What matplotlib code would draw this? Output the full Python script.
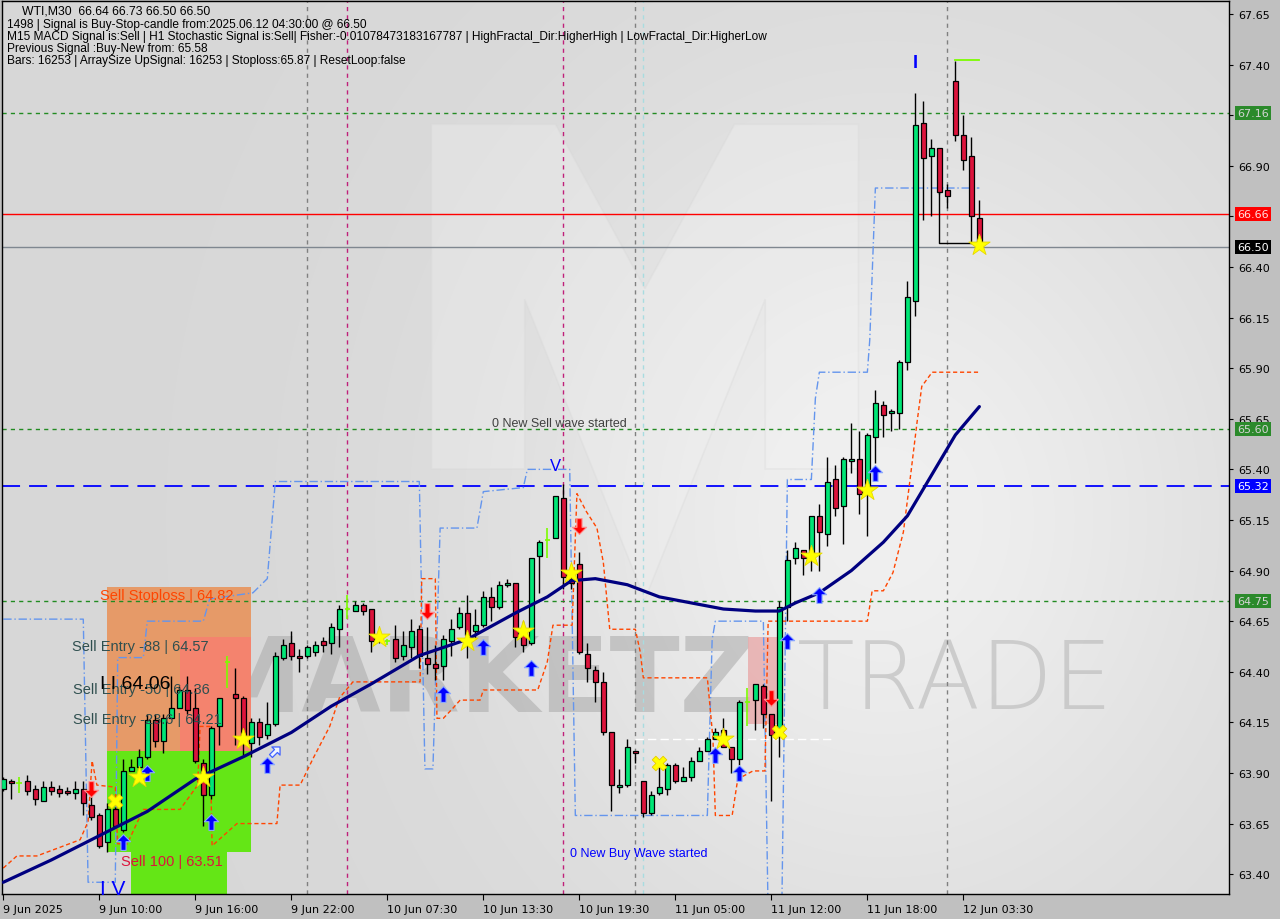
import numpy as np
import matplotlib
matplotlib.use('Agg')
import matplotlib.pyplot as plt
from matplotlib import transforms
from matplotlib.patches import Rectangle, Polygon
from matplotlib.path import Path
from matplotlib.markers import MarkerStyle

# WTI M30 candles (open, high, low, close)
opens = [63.82, 63.86, 63.85, 63.86, 63.82, 63.76, 63.83, 63.82, 63.81, 63.80,
         63.82, 63.74, 63.69, 63.56, 63.72, 63.62, 63.91, 63.93, 63.98, 64.16,
         64.06, 64.17, 64.22, 64.31, 64.22, 63.95, 63.79, 64.13, 64.45, 64.29,
         64.27, 64.05, 64.15, 64.09, 64.14, 64.47, 64.54, 64.48, 64.48, 64.50,
         64.55, 64.54, 64.61, 64.71, 64.70, 64.73, 64.71, 64.56, 64.55, 64.56,
         64.48, 64.52, 64.61, 64.47, 64.44, 64.43, 64.55, 64.62, 64.69, 64.60,
         64.63, 64.77, 64.72, 64.83, 64.84, 64.58, 64.54, 64.97, 65.05, 65.06,
         65.26, 64.86, 64.93, 64.49, 64.41, 64.35, 64.10, 63.83, 63.84, 64.01,
         63.86, 63.70, 63.80, 63.82, 63.94, 63.86, 63.88, 63.96, 64.01, 64.07,
         64.11, 64.03, 63.97, 64.25, 64.26, 64.33, 64.19, 64.10, 64.72, 64.96,
         65.00, 64.98, 65.17, 65.08, 65.35, 65.22, 65.44, 65.45, 65.28, 65.56,
         65.72, 65.68, 65.68, 65.93, 66.23, 67.11, 66.95, 66.99, 66.78, 67.32,
         67.05, 66.95, 66.64]
highs = [63.88, 63.87, 63.88, 63.89, 63.84, 63.86, 63.86, 63.84, 63.83, 63.86,
         63.86, 63.79, 63.70, 63.75, 63.73, 63.97, 63.97, 64.02, 64.19, 64.19,
         64.19, 64.38, 64.33, 64.38, 64.32, 63.97, 64.13, 64.27, 64.48, 64.42,
         64.28, 64.17, 64.17, 64.25, 64.50, 64.56, 64.60, 64.51, 64.53, 64.55,
         64.57, 64.64, 64.73, 64.78, 64.75, 64.74, 64.71, 64.59, 64.56, 64.63,
         64.60, 64.66, 64.63, 64.62, 64.53, 64.58, 64.66, 64.72, 64.78, 64.71,
         64.80, 64.82, 64.85, 64.86, 64.84, 64.65, 64.96, 65.05, 65.11, 65.27,
         65.33, 64.88, 64.99, 64.54, 64.43, 64.40, 64.10, 63.92, 64.07, 64.01,
         63.86, 63.81, 63.93, 63.95, 63.95, 63.93, 63.98, 64.03, 64.08, 64.12,
         64.17, 64.03, 64.26, 64.32, 64.34, 64.34, 64.19, 64.75, 65.00, 65.04,
         65.00, 65.17, 65.23, 65.46, 65.42, 65.46, 65.63, 65.59, 65.58, 65.79,
         65.74, 65.70, 65.94, 66.33, 67.26, 67.22, 67.03, 66.99, 66.81, 67.42,
         67.15, 67.04, 66.73]
lows = [63.81, 63.77, 63.80, 63.79, 63.74, 63.76, 63.79, 63.78, 63.79, 63.77,
        63.69, 63.67, 63.53, 63.51, 63.63, 63.61, 63.91, 63.92, 63.97, 64.03,
        64.00, 64.17, 64.22, 64.19, 63.95, 63.64, 63.77, 64.04, 64.32, 64.04,
        63.99, 63.98, 64.04, 64.07, 64.13, 64.46, 64.46, 64.40, 64.47, 64.48,
        64.50, 64.49, 64.52, 64.66, 64.70, 64.68, 64.50, 64.54, 64.53, 64.45,
        64.46, 64.47, 64.42, 64.39, 64.36, 64.36, 64.48, 64.61, 64.47, 64.56,
        64.62, 64.65, 64.71, 64.82, 64.52, 64.50, 64.53, 64.79, 64.96, 65.06,
        64.81, 64.81, 64.49, 64.35, 64.25, 64.09, 63.71, 63.80, 63.83, 63.95,
        63.68, 63.69, 63.79, 63.79, 63.85, 63.86, 63.86, 63.96, 64.01, 64.07,
        64.03, 63.90, 63.94, 64.13, 64.11, 64.12, 63.76, 63.98, 64.65, 64.93,
        64.88, 64.90, 64.90, 65.02, 65.17, 65.03, 65.38, 65.18, 65.07, 65.43,
        65.56, 65.59, 65.60, 65.89, 66.16, 66.63, 66.65, 66.76, 66.69, 67.02,
        66.88, 66.52, 66.50]
closes = [63.87, 63.85, 63.85, 63.81, 63.77, 63.83, 63.81, 63.80, 63.80, 63.82,
          63.75, 63.68, 63.54, 63.72, 63.64, 63.91, 63.93, 63.98, 64.16, 64.06,
          64.17, 64.22, 64.31, 64.21, 63.96, 63.79, 64.12, 64.27, 64.45, 64.27,
          64.07, 64.15, 64.08, 64.14, 64.48, 64.53, 64.48, 64.47, 64.52, 64.53,
          64.53, 64.62, 64.71, 64.71, 64.73, 64.70, 64.55, 64.58, 64.55, 64.47,
          64.53, 64.60, 64.48, 64.44, 64.42, 64.56, 64.61, 64.69, 64.58, 64.63,
          64.77, 64.72, 64.83, 64.84, 64.57, 64.53, 64.96, 65.04, 65.05, 65.27,
          64.87, 64.84, 64.50, 64.42, 64.35, 64.10, 63.84, 63.84, 64.03, 64.00,
          63.70, 63.79, 63.83, 63.94, 63.86, 63.88, 63.96, 64.01, 64.07, 64.10,
          64.03, 63.97, 64.25, 64.25, 64.34, 64.19, 64.09, 64.72, 64.95, 65.01,
          64.96, 65.17, 65.09, 65.34, 65.21, 65.45, 65.45, 65.28, 65.57, 65.73,
          65.67, 65.69, 65.93, 66.25, 67.10, 66.94, 66.99, 66.77, 66.75, 67.05,
          66.93, 66.65, 66.50]

# moving average (navy line)
ma_idx = [0, 6, 12, 18, 24, 30, 36, 41, 46, 52, 58, 64, 68, 71, 74, 78, 82, 86,
          90, 94, 97, 99, 102, 106, 110, 113, 116, 119, 122]
ma_val = [63.36, 63.47, 63.59, 63.71, 63.87, 63.98, 64.10, 64.23, 64.34, 64.48,
          64.56, 64.69, 64.77, 64.85, 64.86, 64.83, 64.77, 64.74, 64.71, 64.70,
          64.70, 64.74, 64.79, 64.90, 65.04, 65.17, 65.37, 65.57, 65.71]

# blue dash-dot envelope
band_hi_idx = [0, 10, 10.6, 14, 14.3, 17.5, 18, 25, 25.8, 31.2, 33, 34, 52, 52.7,
               53.7, 54.6, 59.2, 60, 65, 65.5, 70.8, 71.5, 88, 88.6, 89, 95, 95.6,
               97.3, 98, 101, 101.5, 102, 108, 108.3, 109, 122]
band_hi_val = [64.66, 64.66, 63.36, 63.36, 64.47, 64.47, 64.65, 64.65, 64.76, 64.79,
               64.86, 65.34, 65.34, 63.92, 63.92, 65.11, 65.11, 65.29, 65.31, 65.40,
               65.40, 63.69, 63.69, 64.56, 64.65, 64.65, 63.20, 63.20, 65.35, 65.35,
               65.75, 65.88, 65.88, 66.04, 66.79, 66.79]

# orange-red dashed stop line
band_lo_idx = [0, 1.7, 4.2, 9.6, 10.6, 11.1, 11.7, 14, 14.3, 15.5, 17.5, 22.1, 24.3,
               24.6, 25.8, 26.1, 29.2, 34.2, 34.6, 37.1, 38.7, 40.8, 42, 43.7, 52.1,
               52.3, 54, 54.2, 55, 56.2, 57.1, 59.6, 60, 66.8, 68, 68.7, 71.1, 71.7,
               72.9, 74.2, 75, 75.8, 79, 79.6, 80, 88, 88.7, 89, 91.1, 91.8, 93.7,
               95.2, 95.6, 108, 108.6, 110, 111.2, 112.5, 113.4, 114.2, 114.8, 116.1, 122]
band_lo_val = [63.43, 63.49, 63.49, 63.57, 63.66, 63.96, 63.84, 63.83, 63.55, 63.55,
               63.72, 63.72, 63.84, 64.13, 64.13, 63.54, 63.65, 63.65, 63.84, 63.84,
               63.97, 64.13, 64.27, 64.35, 64.35, 64.86, 64.86, 64.17, 64.17, 64.22,
               64.26, 64.26, 64.31, 64.31, 64.45, 64.63, 64.63, 65.28, 65.19, 65.11,
               64.94, 64.61, 64.61, 64.50, 64.37, 64.37, 64.07, 63.69, 63.69, 63.87,
               63.91, 63.91, 64.65, 64.65, 64.80, 64.80, 64.89, 65.09, 65.37, 65.63,
               65.81, 65.88, 65.88]

up_idx = [15, 18, 26, 33, 55, 60, 66, 89, 92, 98, 102, 109]
up_val = [63.56, 63.90, 63.66, 63.94, 64.29, 64.52, 64.42, 63.99, 63.90, 64.55, 64.78, 65.38]
down_idx = [11, 53, 72, 96]
down_val = [63.82, 64.70, 65.12, 64.27]
star_idx = [17, 25, 30, 47, 58, 65, 71, 90, 101, 108, 122]
star_val = [63.88, 63.88, 64.07, 64.57, 64.55, 64.60, 64.89, 64.07, 64.97, 65.30, 66.51]
cross_idx = [14, 82, 97]
cross_val = [63.76, 63.95, 64.10]

time_labels = ['9 Jun 2025', '9 Jun 10:00', '9 Jun 16:00', '9 Jun 22:00', '10 Jun 07:30',
               '10 Jun 13:30', '10 Jun 19:30', '11 Jun 05:00', '11 Jun 12:00',
               '11 Jun 18:00', '12 Jun 03:30']
price_ticks = [63.40, 63.65, 63.90, 64.15, 64.40, 64.65, 64.90, 65.15, 65.40, 65.65,
               65.90, 66.15, 66.40, 66.65, 66.90, 67.15, 67.40, 67.65]
hidden_ticks = [66.65, 67.15]   # covered by the price tags

header = ['1498 | Signal is Buy-Stop-candle from:2025.06.12 04:30:00 @ 66.50',
          'M15 MACD Signal is:Sell | H1 Stochastic Signal is:Sell| Fisher:-0.01078473183167787 | HighFractal_Dir:HigherHigh | LowFractal_Dir:HigherLow',
          'Previous Signal :Buy-New from: 65.58',
          'Bars: 16253 | ArraySize UpSignal: 16253 | Stoploss:65.87 | ResetLoop:false']

fig = plt.figure(figsize=(12.8, 9.2), dpi=100, facecolor='#c0c0c0')
ax = fig.add_axes([2 / 1280, 1 - 895 / 920, 1227 / 1280, 893 / 920])
xmin, xmax = -0.16, 153.2
ymin, ymax = 63.302, 67.714
ax.set_xlim(xmin, xmax)
ax.set_ylim(ymin, ymax)

# background with soft light patch
gy, gx = np.mgrid[0:1:200j, 0:1:300j]
val = 0.845 + 0.095 * np.exp(-((gx - 0.72) ** 2 / 0.09 + (gy - 0.42) ** 2 / 0.22))
ax.imshow(np.dstack([val, val, val]), extent=(xmin, xmax, ymin, ymax), origin='lower',
          aspect='auto', zorder=0, interpolation='bilinear')

# watermark
m_pts = [(0.350, 0.862), (0.451, 0.862), (0.524, 0.678), (0.597, 0.862), (0.698, 0.862),
         (0.698, 0.476), (0.622, 0.476), (0.622, 0.666), (0.524, 0.330), (0.426, 0.666),
         (0.426, 0.476), (0.350, 0.476)]
ax.add_patch(Polygon(m_pts, closed=True, transform=ax.transAxes, facecolor='#f4f4f4',
                     edgecolor='#d6d6d6', lw=1.2, alpha=0.3, zorder=0.5))
ax.text(0.1614, 0.2374, 'MARKETZ', transform=ax.transAxes, fontsize=74, fontweight='bold',
        color='#a9a9a9', alpha=0.55, va='center', ha='left', zorder=0.6)
ax.add_patch(Rectangle((93.1, 64.14), 4.0, 0.43, facecolor='#e89a9a', alpha=0.65, lw=0, zorder=0.6))
ax.text(0.648, 0.2374, 'TRADE', transform=ax.transAxes, fontsize=68, fontweight='light',
        color='#b8b8b8', alpha=0.6, va='center', ha='left', zorder=0.6)

# sell zone boxes
ax.add_patch(Rectangle((12.96, 64.01), 18.0, 0.81, facecolor='#e69a68', lw=0, zorder=1))
ax.add_patch(Rectangle((22.1, 64.01), 8.86, 0.56, facecolor='#f4836e', lw=0, zorder=1.1))
ax.add_patch(Rectangle((12.96, 63.51), 18.0, 0.50, facecolor='#64e616', lw=0, zorder=1))
ax.add_patch(Rectangle((16.0, 63.20), 12.0, 0.31, facecolor='#64e616', lw=0, zorder=1))

# vertical dashed markers
for vx, vc in [(38, '#808080'), (43, '#c0207a'), (70, '#c0207a'), (79, '#808080'),
               (80, '#a8dce0'), (118, '#808080')]:
    ax.axvline(vx, color=vc, lw=1, ls=(0, (3, 3)), zorder=1.5)

# horizontal levels
for lv in [67.16, 65.60, 64.75]:
    ax.axhline(lv, color='#228b22', lw=1, ls=(0, (3, 3)), zorder=1.6)
ax.axhline(66.66, color='#ff0000', lw=1, zorder=1.6)
ax.axhline(66.50, color='#7f8790', lw=1, zorder=1.6)
ax.axhline(65.32, color='#0000ff', lw=1.3, ls=(0, (10, 5)), zorder=1.6)
ax.plot([79, 104], [64.07, 64.07], color='white', lw=1, ls=(0, (6, 3)), zorder=1.6)

# indicator lines
ax.plot(band_hi_idx, band_hi_val, color='#6495ed', lw=1, ls=(0, (6, 2, 1, 2)), zorder=2)
ax.plot(band_lo_idx, band_lo_val, color='#ff4500', lw=1, ls=(0, (3, 2)), zorder=2)

# candles
idx = np.arange(len(opens))
o = np.array(opens)
c = np.array(closes)
h = np.array(highs)
l = np.array(lows)
doji = np.isclose(o, c)
up = (c > o) & ~doji
dn = (c < o) & ~doji
ax.vlines(idx[~doji], l[~doji], h[~doji], color='black', lw=1, zorder=3)
ax.vlines(idx[doji], l[doji], h[doji], color='#7cfc00', lw=1.2, zorder=3)
ax.hlines(o[doji], idx[doji] - 0.35, idx[doji] + 0.35, color='#7cfc00', lw=1.2, zorder=3)
body = np.maximum(np.abs(c - o), 0.006)
ax.bar(idx[up], body[up], bottom=o[up], width=0.62, color='#00e676', edgecolor='black',
       linewidth=0.9, zorder=3.1)
ax.bar(idx[dn], body[dn], bottom=c[dn], width=0.62, color='#dc143c', edgecolor='black',
       linewidth=0.9, zorder=3.1)

# extra lines near the last candles
ax.plot([117, 117, 122], [66.77, 66.52, 66.52], color='black', lw=1, zorder=3)
ax.plot([119, 122], [67.424, 67.424], color='#7cfc00', lw=1.3, zorder=3)

ax.plot(ma_idx, ma_val, color='#000080', lw=2.3, zorder=4, solid_capstyle='round')

# signal markers: arrow shaped marker path
arrow_up = Path([(0, 1), (0.9, 0.1), (0.32, 0.1), (0.32, -1), (-0.32, -1),
                 (-0.32, 0.1), (-0.9, 0.1), (0, 1)], closed=True)
arrow_dn = Path([(0, -1), (0.9, -0.1), (0.32, -0.1), (0.32, 1), (-0.32, 1),
                 (-0.32, -0.1), (-0.9, -0.1), (0, -1)], closed=True)
ax.scatter(up_idx, up_val, marker=arrow_up, s=130, c='#0000ff', edgecolors='#8aa8ff',
           linewidths=0.8, zorder=5)
ax.scatter(down_idx, down_val, marker=arrow_dn, s=130, c='#ff0000', edgecolors='#ff9090',
           linewidths=0.8, zorder=5)
tilted = MarkerStyle(arrow_up, transform=transforms.Affine2D().rotate_deg(-45))
ax.scatter([34], [64.01], marker=tilted, s=85, c='#f0f4ff', edgecolors='#4060ff',
           linewidths=0.9, zorder=5)
ax.scatter(star_idx, star_val, marker='*', s=260, c='#ffff00', edgecolors='#e6d800',
           linewidths=0.6, zorder=5.5)
ax.scatter(cross_idx, cross_val, marker='X', s=110, c='#ffff00', edgecolors='#e6c800',
           linewidths=0.6, zorder=5.5)

# zone / wave texts
ax.text(12.1, 64.78, 'Sell Stoploss | 64.82', color='#ff4500', fontsize=10.5,
        family='Liberation Sans', va='center', zorder=6)
ax.text(8.6, 64.527, 'Sell Entry -88 | 64.57', color='#2f4f4f', fontsize=10.5,
        family='Liberation Sans', va='center', zorder=6)
ax.text(8.7, 64.315, 'Sell Entry -50 | 64.36', color='#2f4f4f', fontsize=10.5,
        family='Liberation Sans', va='center', zorder=6)
ax.text(8.7, 64.166, 'Sell Entry -23.6 | 64.21', color='#2f4f4f', fontsize=10.5,
        family='Liberation Sans', va='center', zorder=6)
ax.text(12.1, 64.34, 'I I 64.06', color='black', fontsize=14,
        family='Liberation Sans', va='center', zorder=6)
ax.text(14.7, 63.465, 'Sell 100 | 63.51', color='#dc143c', fontsize=10.5,
        family='Liberation Sans', va='center', zorder=6)
ax.text(61.1, 65.629, '0 New Sell wave started', color='#404040', fontsize=9,
        family='Liberation Sans', va='center', zorder=6)
ax.text(70.8, 63.504, '0 New Buy Wave started', color='#0000ff', fontsize=9,
        family='Liberation Sans', va='center', zorder=6)
ax.text(68.96, 65.417, 'V', color='#0000ff', fontsize=12, family='Liberation Sans',
        ha='center', va='center', zorder=6)
ax.text(12.1, 63.33, 'I V', color='#0000ff', fontsize=15, family='Liberation Sans',
        ha='left', va='center', zorder=6)
ax.text(114, 67.41, 'I', color='#0000ff', fontsize=13, fontweight='bold',
        family='Liberation Sans', ha='center', va='center', zorder=6)

# header text
ax.text(20 / 1227, 1 - 10 / 893, 'WTI,M30  66.64 66.73 66.50 66.50', transform=ax.transAxes,
        fontsize=8.8, family='Liberation Sans', va='center', ha='left', zorder=7)
for i, line in enumerate(header):
    ax.text(5 / 1227, 1 - (23 + 12 * i) / 893, line, transform=ax.transAxes,
            fontsize=8.6, family='Liberation Sans', va='center', ha='left', zorder=7)

# axes
ax.yaxis.tick_right()
ax.set_yticks(price_ticks)
ax.set_yticklabels(['' if p in hidden_ticks else f'{p:.2f}' for p in price_ticks])
ax.tick_params(axis='y', direction='out', length=3, pad=4, labelsize=8, colors='black')
ax.set_xticks(list(range(0, 121, 12)))
ax.set_xticklabels(time_labels)
ax.tick_params(axis='x', direction='out', length=4, pad=3, labelsize=8)
for lbl in ax.get_xticklabels():
    lbl.set_ha('left')
for sp in ax.spines.values():
    sp.set_color('black')
    sp.set_linewidth(1)

# price tags on the right axis
tr = transforms.blended_transform_factory(ax.transAxes, ax.transData)
tags = [(67.16, '#2b8a2b', '#d4d4d4'), (66.66, '#ff0000', '#ffe0e0'),
        (66.50, '#000000', '#ffffff'), (65.60, '#2b8a2b', '#d4d4d4'),
        (65.32, '#0000ff', '#ffffff'), (64.75, '#2b8a2b', '#d4d4d4')]
for pv, bg, fg in tags:
    ax.text(1.0065, pv, f'{pv:.2f}', transform=tr, fontsize=8, color=fg, va='center',
            ha='left', clip_on=False, zorder=8,
            bbox=dict(boxstyle='square,pad=0.18', facecolor=bg, edgecolor='none'))

fig.savefig('out.png', dpi=100, facecolor=fig.get_facecolor())
